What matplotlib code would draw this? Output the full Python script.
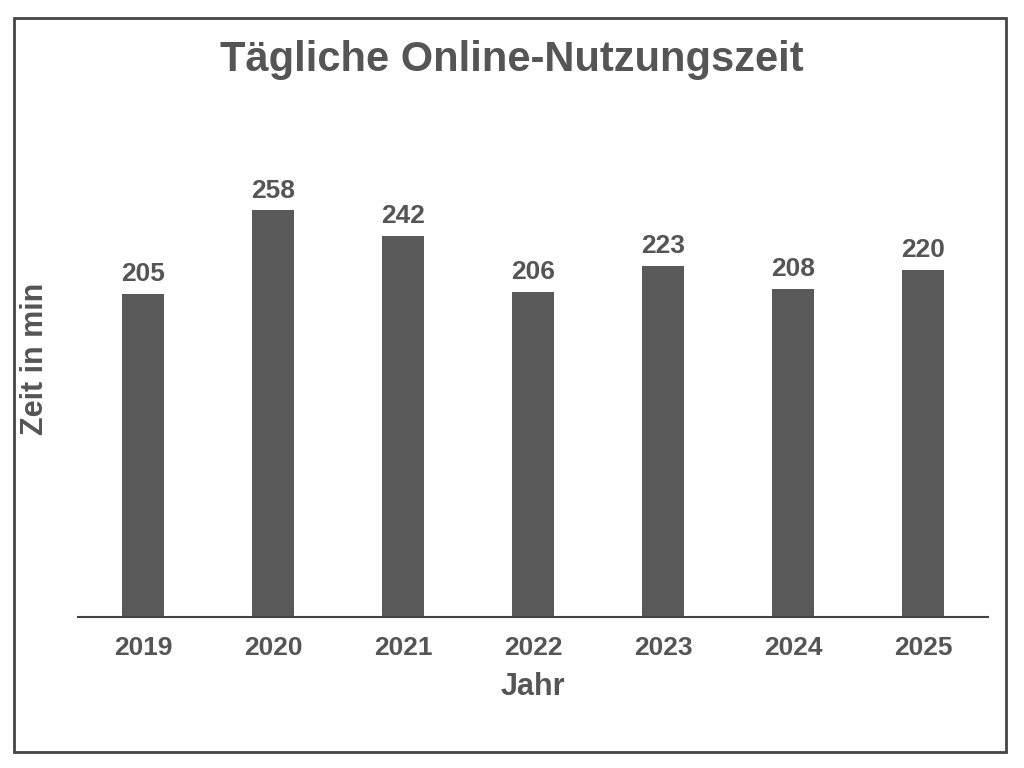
import matplotlib
matplotlib.use("Agg")
import matplotlib.pyplot as plt
from matplotlib.patches import Rectangle

years = ["2019", "2020", "2021", "2022", "2023", "2024", "2025"]
values = [205, 258, 242, 206, 223, 208, 220]

plt.rcParams['font.family'] = ['Liberation Sans', 'DejaVu Sans']
fig = plt.figure(figsize=(10.24, 7.68), dpi=100)
fig.patches.append(Rectangle((14/1024, 1-752/768), 992/1024, 734/768, transform=fig.transFigure,
                             fill=False, edgecolor='#444444', linewidth=2))
ax = fig.add_axes([78/1024, 1-617/768, 910/1024, 517/768])
x = range(len(years))
ax.bar(x, values, width=0.32, color='#595959')
for i, v in zip(x, values):
    ax.text(i, v + 5, str(v), ha='center', va='bottom', fontsize=19, fontweight='bold', color='#555555')
ax.set_xlim(-0.5, 6.5)
ax.set_ylim(0, 517/1.576)
ax.set_xticks(list(x))
ax.set_xticklabels(years, fontsize=19, fontweight='bold', color='#555555')
ax.tick_params(axis='x', length=0, pad=14)
ax.set_yticks([])
for s in ['top', 'right', 'left']:
    ax.spines[s].set_visible(False)
ax.spines['bottom'].set_color('#444444')
ax.spines['bottom'].set_linewidth(1.5)
ax.set_xlabel("Jahr", fontsize=22, fontweight='bold', color='#555555', labelpad=8)
ax.set_ylabel("Zeit in min", fontsize=22, fontweight='bold', color='#555555', labelpad=20)
fig.text(0.5, 1-60/768, "Tägliche Online-Nutzungszeit", ha='center', va='center',
         fontsize=30, fontweight='bold', color='#555555')
fig.savefig("out.png", dpi=100)
